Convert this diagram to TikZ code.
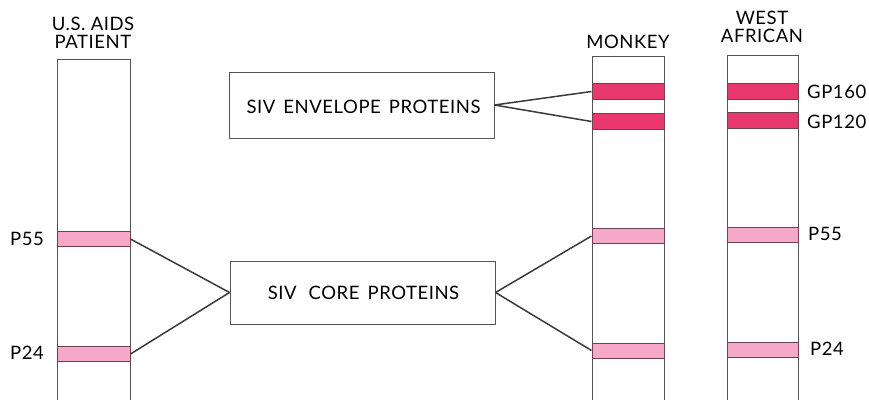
\documentclass[tikz,border=0pt]{standalone}
\usepackage{fontspec}
\setmainfont{Lato}[LetterSpace=3]
\definecolor{gpfill}{HTML}{E8386E}
\definecolor{pfill}{HTML}{F6A8C8}
\definecolor{bandline}{HTML}{6E4050}
\definecolor{stripline}{HTML}{555555}
\definecolor{conn}{HTML}{3A3A3A}
\tikzset{
  strip/.style={draw=stripline, line width=1pt},
  gpband/.style={draw=bandline, line width=1pt, fill=gpfill, minimum width=72pt, minimum height=16pt, inner sep=0pt},
  pband/.style={draw=bandline, line width=1pt, fill=pfill, minimum width=73pt, minimum height=15pt, inner sep=0pt},
  infobox/.style={draw=stripline, line width=1pt, fill=white, inner sep=0pt},
  lbl/.style={font=\fontsize{18.5}{20}\selectfont, inner sep=0pt},
  conn/.style={draw=conn, line width=1.5pt}
}
\begin{document}
\begin{tikzpicture}[x=1pt,y=-1pt]
\useasboundingbox (0,0) rectangle (869,399);
% strips
\draw[strip] (57,400) -- (57,59) -- (130,59) -- (130,400);
\draw[strip] (592,400) -- (592,56) -- (664,56) -- (664,400);
\draw[strip] (727,400) -- (727,55) -- (798,55) -- (798,400);
% headers
\node[lbl, align=center] (hus) at (93,33) {U.S. AIDS\\[-2pt]PATIENT};
\node[lbl] (hmk) at (628,42) {MONKEY};
\node[lbl, align=center] (hwa) at (762,27) {WEST\\[-2pt]AFRICAN};
% bands
\node[pband] (u55) at (93.5,239) {};
\node[pband] (u24) at (93.5,354) {};
\node[gpband] (m160) at (628,91.5) {};
\node[gpband] (m120) at (628,121.5) {};
\node[pband, minimum width=72pt] (m55) at (628,236) {};
\node[pband, minimum width=72pt] (m24) at (628,350.5) {};
\node[gpband, minimum width=71pt] (w160) at (762.5,91) {};
\node[gpband, minimum width=71pt] (w120) at (762.5,120.5) {};
\node[pband, minimum width=71pt] (w55) at (762.5,235) {};
\node[pband, minimum width=71pt] (w24) at (762.5,349.5) {};
% band labels
\node[lbl, anchor=east] (lu55) at (44,239) {P55};
\node[lbl, anchor=east] (lu24) at (44,353) {P24};
\node[lbl, anchor=west] (lw160) at (807,92) {GP160};
\node[lbl, anchor=west] (lw120) at (807,122) {GP120};
\node[lbl, anchor=west] (lw55) at (808,234) {P55};
\node[lbl, anchor=west] (lw24) at (810,349) {P24};
% boxes
\node[infobox, minimum width=265pt, minimum height=66pt] (env) at (361.5,105) {};
\node[lbl] at (363.5,107) {SIV\hspace{8pt}ENVELOPE\hspace{8pt}PROTEINS};
\node[infobox, minimum width=265pt, minimum height=63pt] (core) at (362.5,292.5) {};
\node[lbl] at (363.5,293) {SIV\hspace{12pt}CORE\hspace{8pt}PROTEINS};
% connectors
\draw[conn] (env.east) -- (m160.west);
\draw[conn] (env.east) -- (m120.west);
\draw[conn] (core.west) -- (u55.east);
\draw[conn] (core.west) -- (u24.east);
\draw[conn] (core.east) -- (m55.west);
\draw[conn] (core.east) -- (m24.west);
\end{tikzpicture}
\end{document}
